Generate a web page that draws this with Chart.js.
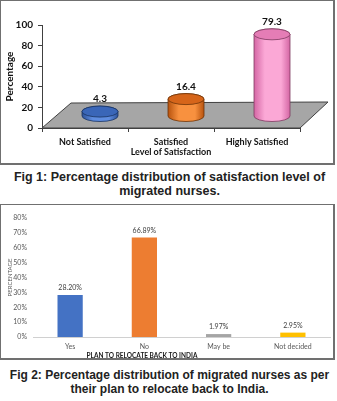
<!DOCTYPE html>
<html><head><meta charset="utf-8">
<script src="https://cdn.jsdelivr.net/npm/chart.js@4.4.1/dist/chart.umd.min.js"></script>
<style>
html,body{margin:0;padding:0;background:#fff;}
body{width:337px;height:401px;position:relative;overflow:hidden;font-family:"Liberation Sans",Arial,sans-serif;}
.box{position:absolute;left:0;width:332px;border:1px solid #707070;border-right-width:2px;border-bottom-width:2px;box-sizing:content-box;}
#b1{top:0;height:162px;}
#b2{top:204px;height:153px;}
.cap{position:absolute;left:1px;width:337px;text-align:center;font-weight:bold;line-height:14px;color:#222;}
#cap1{top:169.5px;font-size:12.5px;}
#cap2{top:367.5px;font-size:12px;}
canvas{position:absolute;left:0;}
#c1{top:0;}
#c2{top:205px;}
</style>
</head><body>
<div class="box" id="b1"></div>
<div class="box" id="b2"></div>
<canvas id="c1" width="337" height="165"></canvas>
<canvas id="c2" width="337" height="155"></canvas>
<div class="cap" id="cap1">Fig 1: Percentage distribution of satisfaction level of<br>migrated nurses.</div>
<div class="cap" id="cap2">Fig 2: Percentage distribution of migrated nurses as per<br>their plan to relocate back to India.</div>
<script>
// ---- Figure 1 data ----
const satisfactionLevels = ['Not Satisfied', 'Satisfied', 'Highly Satisfied'];
const satisfactionPercent = [4.3, 16.4, 79.3];
const satisfactionValueLabels = ['4.3', '16.4', '79.3'];
const satisfactionTickStep = 20;
const satisfactionMax = 100;

// ---- Figure 2 data ----
const relocatePlans = ['Yes', 'No', 'May be', 'Not decided'];
const relocatePercent = [28.20, 66.89, 1.97, 2.95];
const relocateValueLabels = ['28.20%', '66.89%', '1.97%', '2.95%'];
const relocateTickStep = 10;
const relocateMax = 80;

const cylColors = [
  {dark:'#2d5299', light:'#5f8de0', top:'#3a66b8', stroke:'#1b3361'},
  {dark:'#b8530e', light:'#f8913f', top:'#d6651a', stroke:'#6e3408'},
  {dark:'#d466a4', light:'#fba8d6', top:'#e57db6', stroke:'#7d3a60'}
];
const barColors = ['#4472C4', '#ED7D31', '#A5A5A5', '#FFC000'];

const DX = 15, DY = -12, RX = 18, RY = 5.5;

function drawCylinder(ctx, cx, topY, baseY, col) {
  const g = ctx.createLinearGradient(cx - RX, 0, cx + RX, 0);
  g.addColorStop(0, col.dark);
  g.addColorStop(0.3, col.light);
  g.addColorStop(0.75, col.light);
  g.addColorStop(1, col.dark);
  ctx.save();
  ctx.lineWidth = 0.8;
  ctx.strokeStyle = col.stroke;
  ctx.beginPath();
  ctx.moveTo(cx - RX, topY);
  ctx.lineTo(cx - RX, baseY);
  ctx.ellipse(cx, baseY, RX, RY, 0, Math.PI, 0, true);
  ctx.lineTo(cx + RX, topY);
  ctx.ellipse(cx, topY, RX, RY, 0, 0, Math.PI, true);
  ctx.closePath();
  ctx.fillStyle = g;
  ctx.fill();
  ctx.stroke();
  ctx.beginPath();
  ctx.ellipse(cx, topY, RX, RY, 0, 0, Math.PI * 2);
  ctx.fillStyle = col.top;
  ctx.fill();
  ctx.stroke();
  ctx.restore();
}

const fig1Plugin = {
  id: 'fig1Plugin',
  beforeDatasetsDraw(chart) {
    const {ctx, chartArea: a} = chart;
    const y0 = chart.scales.y.getPixelForValue(0);
    ctx.save();
    ctx.beginPath();
    ctx.moveTo(a.left, y0);
    ctx.lineTo(a.left + 2 * DX - 1, y0 + 2 * DY - 1);
    ctx.lineTo(a.right + 2 * DX - 2, y0 + 2 * DY - 2);
    ctx.lineTo(a.right, y0);
    ctx.closePath();
    ctx.fillStyle = '#a6a6a6';
    ctx.fill();
    ctx.strokeStyle = '#404040';
    ctx.lineWidth = 1;
    ctx.stroke();
    ctx.restore();
  },
  afterDatasetsDraw(chart) {
    const {ctx} = chart;
    const meta = chart.getDatasetMeta(0);
    const ys = chart.scales.y;
    meta.data.forEach((bar, i) => {
      const cx = bar.x + DX;
      const base = ys.getPixelForValue(0) + DY;
      const top = ys.getPixelForValue(satisfactionPercent[i]) + DY;
      drawCylinder(ctx, cx, top, base, cylColors[i]);
      ctx.save();
      ctx.font = 'bold 10px Lato';
      ctx.fillStyle = '#111';
      ctx.textAlign = 'center';
      ctx.textBaseline = 'middle';
      ctx.fillText(satisfactionValueLabels[i], cx, top - RY - 7);
      ctx.restore();
    });
  }
};

new Chart(document.getElementById('c1'), {
  type: 'bar',
  data: {
    labels: satisfactionLevels,
    datasets: [{data: satisfactionPercent, backgroundColor: 'rgba(0,0,0,0)', borderWidth: 0}]
  },
  options: {
    responsive: false, animation: false, events: [],
    layout: {padding: {left: 0, right: 37, top: 25, bottom: 0}},
    plugins: {legend: {display: false}, tooltip: {enabled: false}},
    scales: {
      x: {
        grid: {display: true, drawOnChartArea: false, drawTicks: true, tickLength: 4, color: '#404040'},
        border: {display: true, color: '#404040'},
        ticks: {font: {family: 'Lato', weight: 'bold', size: 9}, color: '#111', padding: 5, maxRotation: 0, autoSkip: false},
        title: {display: true, text: 'Level of Satisfaction', font: {family: 'Lato', weight: 'bold', size: 9}, color: '#111', padding: {top: 0, bottom: 7.5}},
        afterFit(s) { s.height = 37; }
      },
      y: {
        min: 0, max: satisfactionMax,
        grid: {display: true, drawOnChartArea: false, drawTicks: true, tickLength: 4, color: '#404040'},
        border: {display: true, color: '#404040'},
        ticks: {stepSize: satisfactionTickStep, font: {family: 'Lato', weight: 'bold', size: 10}, color: '#111', padding: 5},
        title: {display: true, text: 'Percentage', font: {family: 'Lato', weight: 'bold', size: 10}, color: '#111', padding: {top: 4, bottom: 0}},
        afterFit(s) { s.width = 42; }
      }
    }
  },
  plugins: [fig1Plugin]
});

const fig2Plugin = {
  id: 'fig2Plugin',
  afterDatasetsDraw(chart) {
    const {ctx, chartArea: a} = chart;
    const meta = chart.getDatasetMeta(0);
    ctx.save();
    ctx.font = '7px Lato';
    ctx.fillStyle = '#404040';
    ctx.textAlign = 'center';
    ctx.textBaseline = 'middle';
    meta.data.forEach((bar, i) => {
      ctx.fillText(relocateValueLabels[i], bar.x, bar.y - 7);
    });
    ctx.font = 'bold 6.5px Lato';
    ctx.fillStyle = '#1a1a1a';
    ctx.fillText('PLAN TO RELOCATE BACK TO INDIA', a.left + 109, 151);
    ctx.restore();
  }
};

new Chart(document.getElementById('c2'), {
  type: 'bar',
  data: {
    labels: relocatePlans,
    datasets: [{data: relocatePercent, backgroundColor: barColors, borderWidth: 0, barPercentage: 0.34, categoryPercentage: 1}]
  },
  options: {
    responsive: false, animation: false, events: [],
    layout: {padding: {left: 0, right: 7, top: 13, bottom: 0}},
    plugins: {legend: {display: false}, tooltip: {enabled: false}},
    scales: {
      x: {
        grid: {display: false, drawTicks: false},
        border: {display: true, color: '#d0d0d0'},
        ticks: {font: {family: 'Lato', size: 7}, color: '#595959', padding: 6, maxRotation: 0, autoSkip: false},
        afterFit(s) { s.height = 23; }
      },
      y: {
        min: 0, max: relocateMax,
        grid: {display: false, drawTicks: false},
        border: {display: false},
        ticks: {stepSize: relocateTickStep, font: {family: 'Lato', size: 7}, color: '#595959', padding: 6, callback: v => v + '%'},
        title: {display: true, text: 'PERCENTAGE', font: {family: 'Lato', size: 6}, color: '#595959', padding: {top: 6, bottom: 0}},
        afterFit(s) { s.width = 33; }
      }
    }
  },
  plugins: [fig2Plugin]
});
</script>
</body></html>
